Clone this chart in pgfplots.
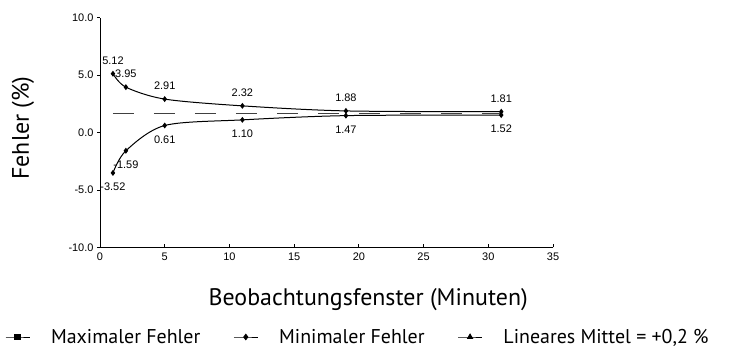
\documentclass[border=0pt]{standalone}
\usepackage{fontspec}
\setmainfont{Liberation Sans}
\newfontfamily\labelfont{PT Sans}
\usepackage{pgfplots}
\pgfplotsset{compat=1.18}
\begin{document}
\begin{tikzpicture}[x=1bp,y=1bp]
\path[use as bounding box] (0,0) rectangle (733,351);
\begin{axis}[
  at={(100bp,103.7bp)}, anchor=south west,
  scale only axis, width=453bp, height=229.6bp,
  xmin=0, xmax=35, ymin=-10, ymax=10,
  xtick={0,5,...,35}, ytick={-10,-5,0,5,10},
  axis x line*=bottom, axis y line*=left,
  axis line style={-, line width=0.8bp, black},
  tick align=inside, major tick length=3bp,
  tick style={black, line width=0.8bp},
  ytick style={xshift=-3bp},
  /pgf/number format/assume math mode=true,
  ticklabel style={font=\fontsize{11}{13}\selectfont},
  yticklabel style={xshift=-3bp, /pgf/number format/.cd, fixed, fixed zerofill, precision=1},
  xticklabel style={yshift=-2bp},
  xlabel={\labelfont\fontsize{24}{28}\selectfont Beobachtungsfenster (Minuten)},
  xlabel style={at={(axis description cs:0.592,-0.2295)}, anchor=center},
  ylabel={\labelfont\fontsize{24}{28}\selectfont Fehler (\%)},
  ylabel style={at={(axis description cs:-0.17,0.5196)}, anchor=center, rotate=0},
  legend columns=3,
  legend style={draw=none, fill=none, at={(axis description cs:-0.2097,-0.3907)}, anchor=west,
    inner sep=0pt, font=\labelfont\fontsize{20}{24}\selectfont,
    nodes={inner xsep=0pt},
    /tikz/every odd column/.append style={column sep=21bp},
    /tikz/every even column/.append style={column sep=33bp}},
  legend cell align=left,
  legend image code/.code={\draw[mark repeat=2, mark phase=2, #1] plot coordinates {(0bp,0bp) (12bp,0bp) (24bp,0bp)};},
  clip=false,
]
\addlegendimage{black, line width=0.8bp, mark=square*, mark size=2.8bp}
\addlegendentry{Maximaler Fehler}
\addlegendimage{black, line width=0.8bp, mark=diamond*, mark size=2.8bp}
\addlegendentry{Minimaler Fehler}
\addlegendimage{black, line width=0.8bp, mark=triangle*, mark size=3bp}
\addlegendentry{Lineares Mittel = +0,2 \%}

\addplot[forget plot, black!75, line width=1.2bp, dash pattern=on 21bp off 20bp] coordinates {(1,1.67) (31,1.67)};

\addplot[forget plot, black, line width=1bp, smooth, mark=diamond*, mark size=2.2bp,
  nodes near coords={\pgfmathprintnumber[fixed, fixed zerofill, precision=2]{\pgfplotspointmeta}},
  every node near coord/.append style={anchor=center, yshift=13bp, font=\fontsize{11}{13}\selectfont, black}]
  coordinates {(1,5.12) (2,3.95) (5,2.91) (11,2.32) (19,1.88) (31,1.81)};

\addplot[forget plot, black, line width=1bp, smooth, mark=diamond*, mark size=2.2bp,
  nodes near coords={\pgfmathprintnumber[fixed, fixed zerofill, precision=2]{\pgfplotspointmeta}},
  every node near coord/.append style={anchor=center, yshift=-14bp, font=\fontsize{11}{13}\selectfont, black}]
  coordinates {(1,-3.52) (2,-1.59) (5,0.61) (11,1.10) (19,1.47) (31,1.52)};
\end{axis}
\end{tikzpicture}
\end{document}
